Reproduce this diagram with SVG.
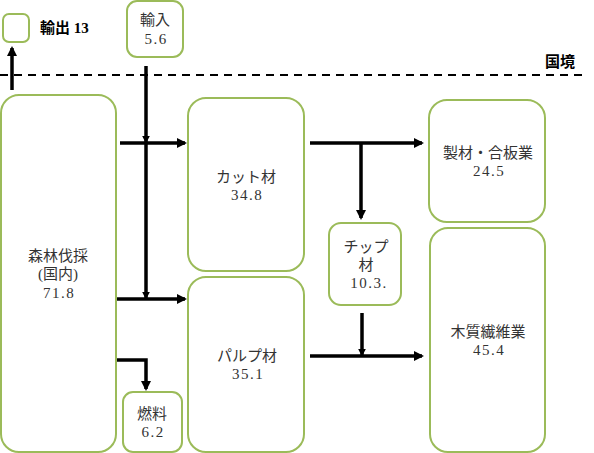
<svg xmlns="http://www.w3.org/2000/svg" width="594" height="453" viewBox="0 0 594 453">
<style>
.box{fill:#fff;stroke:#9BBB59;stroke-width:2}
.t{font-family:"Liberation Serif","Noto Sans CJK JP",serif;font-size:15px;fill:#333;text-anchor:middle}
.n{letter-spacing:1.5px}
.b{font-family:"Liberation Serif","Noto Sans CJK JP",serif;font-size:15px;fill:#000;font-weight:bold}
.c{fill:none;stroke:#000;stroke-width:3.5}
</style>
<defs>
<marker id="ah" viewBox="0 0 10 10" refX="8" refY="5" markerWidth="10" markerHeight="10" markerUnits="userSpaceOnUse" orient="auto"><path d="M0,0 L10,5 L0,10 z" fill="#000"/></marker>
<marker id="sm" viewBox="0 0 10 10" refX="8" refY="5" markerWidth="8" markerHeight="8" markerUnits="userSpaceOnUse" orient="auto"><path d="M0,0 L10,5 L0,10 z" fill="#000"/></marker>
</defs>
<line x1="0" y1="75" x2="586" y2="75" stroke="#000" stroke-width="2" stroke-dasharray="8,6"/>
<text class="b" x="545" y="67">国境</text>
<g id="legend"><rect class="box" x="3" y="14" width="26" height="28" rx="6"/><text class="b" x="40" y="33">輸出 13</text></g>
<g id="import"><rect class="box" x="127" y="1" width="56" height="56" rx="10"/><text class="t" x="155" y="25">輸入</text><text class="t n" x="156" y="44">5.6</text></g>
<g id="forest"><rect class="box" x="1" y="95" width="115" height="357" rx="18"/><text class="t" x="58" y="261">森林伐採</text><text class="t" x="58" y="279">(国内)</text><text class="t n" x="59" y="298">71.8</text></g>
<g id="cut"><rect class="box" x="188" y="98" width="116" height="173" rx="18"/><text class="t" x="246" y="182">カット材</text><text class="t n" x="247" y="200">34.8</text></g>
<g id="pulp"><rect class="box" x="188" y="277" width="116" height="175" rx="18"/><text class="t" x="247" y="361">パルプ材</text><text class="t n" x="248" y="379">35.1</text></g>
<g id="fuel"><rect class="box" x="123" y="392" width="59" height="60" rx="10"/><text class="t" x="152" y="419">燃料</text><text class="t n" x="153" y="437">6.2</text></g>
<g id="chip"><rect class="box" x="329" y="223" width="72" height="82" rx="12"/><text class="t" x="366" y="252">チップ</text><text class="t" x="366" y="270">材</text><text class="t n" x="369" y="288">10.3.</text></g>
<g id="sawmill"><rect class="box" x="429" y="100" width="116" height="122" rx="18"/><text class="t" x="488" y="158">製材・合板業</text><text class="t n" x="489" y="176">24.5</text></g>
<g id="fiber"><rect class="box" x="430" y="228" width="115" height="224" rx="18"/><text class="t" x="488" y="337">木質繊維業</text><text class="t n" x="489" y="355">45.4</text></g>
<g id="connectors">
<line class="c" x1="12" y1="90" x2="12" y2="48" marker-end="url(#ah)"/>
<line class="c" x1="146" y1="66" x2="146" y2="142" marker-end="url(#sm)"/>
<line class="c" x1="146" y1="142" x2="146" y2="298" marker-end="url(#sm)"/>
<line class="c" x1="120" y1="143" x2="185" y2="143" marker-end="url(#ah)"/>
<line class="c" x1="117" y1="299" x2="185" y2="299" marker-end="url(#ah)"/>
<path class="c" d="M117,360 H146 V389" marker-end="url(#ah)"/>
<line class="c" x1="310" y1="143" x2="422" y2="143" marker-end="url(#ah)"/>
<line class="c" x1="361" y1="143" x2="361" y2="218" marker-end="url(#ah)"/>
<line class="c" x1="362" y1="313" x2="362" y2="355" marker-end="url(#sm)"/>
<line class="c" x1="310" y1="356" x2="422" y2="356" marker-end="url(#ah)"/>
</g>
</svg>
